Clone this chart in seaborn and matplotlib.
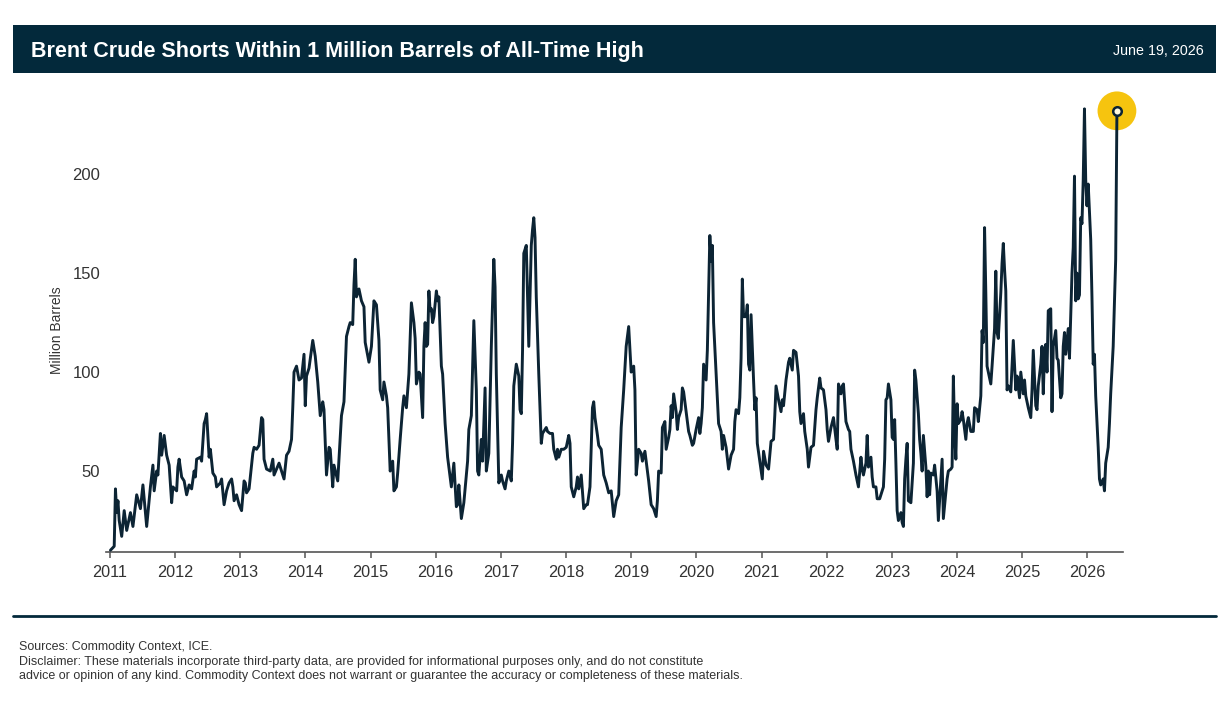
import pandas as pd
import numpy as np
import matplotlib.pyplot as plt
import matplotlib.dates as mdates
from matplotlib.patches import Rectangle
from matplotlib.lines import Line2D
import seaborn as sns

# weeks since 2011-01-04 (ICE weekly COT) and Brent managed-money shorts, million barrels
weeks = [
    0, 3, 4, 5, 6, 7, 9, 11, 13, 16, 18, 21, 24, 26, 29, 32, 34, 35, 37, 38, 40, 41, 43, 45, 47, 49, 50,
    53, 54, 55, 57, 59, 61, 63, 65, 67, 68, 69, 72, 73, 75, 76, 77, 79, 80, 82, 84, 85, 88, 89, 91, 93,
    95, 97, 98, 99, 101, 103, 105, 107, 108, 109, 111, 114, 115, 117, 119, 121, 122, 123, 125, 128, 130,
    131, 135, 137, 139, 141, 143, 145, 146, 147, 149, 151, 153, 155, 156, 157, 159, 162, 164, 166, 168,
    170, 171, 173, 175, 176, 178, 179, 182, 183, 185, 187, 189, 191, 192, 194, 195, 196, 197, 199,
    201, 203, 204, 207, 209, 211, 213, 215, 216, 218, 219, 221, 222, 224, 226, 227, 229, 230, 232, 234,
    235, 237, 239, 241, 243, 244, 245, 247, 248, 250, 251, 252, 253, 254, 255, 256, 257, 258, 259, 261,
    262, 263, 265, 266, 268, 270, 273, 275, 277, 278, 279, 281, 283, 285, 286, 287, 289, 291, 293, 294,
    295, 297, 298, 300, 301, 303, 305, 307, 308, 309, 311, 313, 314, 316, 317, 319, 321, 322, 323, 325,
    327, 328, 329, 330, 331, 333, 335, 337, 338, 339, 340, 341, 343, 345, 346, 349, 350, 352, 354, 355,
    357, 358, 359, 361, 363, 365, 367, 368, 369, 371, 373, 374, 375, 377, 379, 381, 382, 384, 386, 387,
    388, 390, 391, 393, 395, 397, 399, 401, 403, 405, 407,
    409, 411, 413, 415, 416, 417, 419, 420, 421, 423, 425, 426, 428, 429, 431, 433, 435, 437, 438, 439,
    441, 442, 444, 445, 447, 448, 449, 450, 451, 453, 454, 455, 457, 458, 459, 461, 463, 464, 466, 467,
    469, 471, 472, 473, 474, 475, 477, 478, 479, 480, 481, 482, 483, 485, 487, 489, 490, 491, 493, 495,
    497, 499, 500, 501, 503, 504, 505, 506, 507, 509, 510, 511, 512, 513, 515, 516, 517, 518, 520, 522,
    523, 525, 527, 529, 531, 532, 533, 535, 537, 538, 539, 541, 543, 544, 546, 547, 549, 551, 552, 553,
    555, 556, 558, 559, 561, 563, 565, 566, 568, 569, 571, 573, 574, 575, 577, 579, 581, 582, 583, 585,
    586, 587, 589, 591, 592, 593, 595, 597, 598, 599, 601, 602, 603, 605, 606, 607, 609, 610, 611, 613,
    614, 616,
    619, 620, 621, 622, 623, 625, 626, 627, 628, 629, 630, 631, 633, 634, 635, 636, 637, 638, 639, 641,
    643, 644, 645, 647, 648, 649, 650, 651, 653, 654, 655, 656, 657, 659, 660, 662, 663, 665, 666, 667,
    669, 670, 671, 673, 674, 675, 676, 677, 678, 679, 681, 682, 683, 685, 686, 687, 689, 691, 692, 694,
    695, 697, 698, 699, 700, 701, 702, 703, 705, 706, 708, 709, 710, 711, 713, 714, 715, 716, 717, 718,
    719, 721, 722, 723, 724, 725, 726, 728, 729, 731, 732, 733, 735, 737, 738, 739, 741, 742, 743, 745,
    746, 747, 748, 749, 750, 751, 753, 754, 755, 757, 758, 759, 761, 762, 763, 764, 765, 767, 768, 769,
    770, 771, 772, 773, 774, 775, 776, 777, 778, 779, 780, 781, 782, 783, 785, 786, 787, 788, 789, 791,
    792, 793, 795, 796, 797, 799, 800, 801, 803, 804, 805, 806,
]
shorts = [
    10, 12, 41, 29, 35, 25, 17, 30, 20, 29, 22, 38, 31, 43, 22, 42, 53, 40, 50, 48, 69, 58, 68, 58, 53, 34, 42,
    40, 52, 56, 47, 45, 38, 43, 41, 50, 47, 56, 57, 55, 74, 76, 79, 57, 61, 49, 47, 42, 44, 46, 33, 40,
    44, 46, 42, 35, 38, 33, 30, 45, 44, 39, 41, 59, 62, 61, 63, 77, 76, 56, 51, 50, 56,
    48, 54, 50, 46, 58, 60, 66, 82, 100, 103, 96, 97, 109, 83, 98, 102, 116, 108, 95, 78,
    85, 81, 48, 62, 61, 42, 53, 45, 56, 78, 85, 118, 123, 125, 124, 144, 157, 138, 142,
    136, 133, 115, 105, 113, 136, 134, 116, 91, 86, 95, 88, 82, 50, 55, 40, 42, 49, 66, 82,
    88, 82, 99, 135, 125, 117, 94, 100, 99, 77, 113, 125, 113, 114, 141, 131, 132, 125, 128, 141,
    136, 138, 103, 99, 74, 57, 42, 54, 32, 33, 43, 26, 34, 48, 55, 71, 78, 126, 91, 50,
    48, 66, 55, 92, 50, 59, 113, 157, 143, 99, 44, 48, 45, 41, 45, 50, 45, 64, 93, 104,
    98, 81, 79, 111, 160, 164, 113, 164, 172, 178, 168, 138, 99, 64, 69, 72, 70, 69, 69, 61,
    56, 61, 57, 61, 61, 62, 68, 64, 42, 37, 42, 47, 41, 48, 31, 33, 33, 42, 82, 85,
    77, 68, 63, 61, 48, 44, 39, 40, 27, 35, 38,
    72, 91, 113, 123, 111, 100, 103, 91, 48, 61, 59, 55, 60, 55, 45, 33, 31, 27, 35, 50,
    49, 72, 75, 61, 67, 71, 83, 77, 89, 80, 71, 77, 81, 92, 90, 80, 70, 68, 63, 64,
    71, 77, 69, 74, 82, 104, 96, 111, 141, 169, 156, 164, 125, 99, 74, 70, 61, 68, 62, 51,
    58, 61, 75, 81, 79, 87, 107, 147, 128, 128, 134, 104, 101, 129, 96, 81, 87, 64, 55, 46,
    60, 53, 51, 65, 66, 78, 93, 86, 80, 86, 83, 96, 105, 107, 101, 111, 110, 98, 80, 74,
    79, 70, 61, 52, 62, 63, 81, 87, 97, 92, 91, 81, 71, 65, 72, 77, 66, 61, 94, 89,
    93, 94, 75, 71, 70, 61, 55, 48, 45, 42, 57, 51, 48, 54, 68, 52, 57, 47, 42, 42,
    36, 36,
    42, 56, 86, 87, 94, 86, 67, 66, 76, 54, 30, 25, 29, 24, 22, 46, 56, 64, 35, 34,
    54, 101, 96, 79, 66, 59, 50, 68, 52, 37, 50, 38, 49, 48, 53, 40, 25, 46, 56, 26,
    39, 46, 50, 51, 52, 98, 70, 56, 84, 74, 76, 80, 76, 66, 74, 77, 70, 70, 82, 81,
    75, 88, 121, 115, 173, 140, 103, 100, 94, 103, 122, 151, 120, 117, 140, 155, 165, 152, 141, 91,
    93, 90, 103, 116, 103, 91, 98, 87, 100, 89, 96, 88, 82, 77, 91, 111, 83, 81, 93, 104,
    113, 89, 109, 114, 100, 131, 132, 80, 113, 121, 107, 106, 87, 89, 113, 120, 109, 122, 107, 129,
    150, 163, 199, 136, 150, 137, 139, 178, 175, 197, 233, 197, 184, 195, 167, 138, 104, 109, 88, 62,
    46, 43, 46, 40, 54, 62, 74, 89, 113, 136, 157, 232,
]

title = "Brent Crude Shorts Within 1 Million Barrels of All-Time High"
report_date = "June 19, 2026"
source_note = "Sources: Commodity Context, ICE."
disclaimer = ["Disclaimer: These materials incorporate third-party data, are provided for informational purposes only, and do not constitute",
              "advice or opinion of any kind. Commodity Context does not warrant or guarantee the accuracy or completeness of these materials."]

navy = "#03293b"
line_col = "#0c2434"
gold = "#f6c40f"

df = pd.DataFrame({"date": pd.Timestamp("2011-01-04") + pd.to_timedelta(np.array(weeks) * 7, unit="D"),
                   "shorts": shorts})

sns.set_theme(style="white")
plt.rcParams["font.family"] = ["Liberation Sans", "DejaVu Sans"]

W, H = 1229, 701
fig = plt.figure(figsize=(W / 100, H / 100), dpi=100)
ax = fig.add_axes([106 / W, 1 - 552 / H, (1123 - 106) / W, (552 - 95) / H])

sns.lineplot(data=df, x="date", y="shorts", color=line_col, linewidth=2.1, ax=ax, zorder=3)

last = df.iloc[-1]
ax.scatter([last["date"]], [last["shorts"]], s=780, color=gold, edgecolors="none", zorder=2, clip_on=False)
ax.scatter([last["date"]], [last["shorts"]], s=38, facecolor="#fff8dc", edgecolors=line_col,
           linewidths=1.8, zorder=4, clip_on=False)

ax.set_xlim(pd.Timestamp("2010-12-10"), pd.Timestamp("2026-07-20"))
ax.set_ylim(9.1, 240)
ax.set_yticks([50, 100, 150, 200])
ax.xaxis.set_major_locator(mdates.YearLocator())
ax.xaxis.set_major_formatter(mdates.DateFormatter("%Y"))
ax.set_xlabel("")
ax.set_ylabel("Million Barrels", fontsize=10, color="#333333")
ax.yaxis.set_label_coords(-0.041, 0.485)

for s in ["top", "right", "left"]:
    ax.spines[s].set_visible(False)
ax.spines["bottom"].set_color("#555555")
ax.spines["bottom"].set_linewidth(1.2)
ax.tick_params(axis="x", bottom=True, length=4, width=1.1, color="#555555", labelsize=11.7,
               labelcolor="#333333", pad=5.5)
ax.tick_params(axis="y", left=False, length=0, labelsize=12, labelcolor="#333333", pad=4.3)
ax.grid(False)

# header band
fig.patches.append(Rectangle((13 / W, 1 - 73 / H), (1216 - 13) / W, 48 / H, transform=fig.transFigure,
                             facecolor=navy, edgecolor="none", zorder=0))
fig.text(31 / W, 1 - 51.5 / H, title, color="white", fontsize=15.5, fontweight="bold", va="center", ha="left")
fig.text(1204 / W, 1 - 51 / H, report_date, color="white", fontsize=10.3, va="center", ha="right")

# footer rule and notes
fig.add_artist(Line2D([13 / W, 1216 / W], [1 - 616 / H, 1 - 616 / H], transform=fig.transFigure,
                      color=navy, linewidth=2))
fig.text(19 / W, 1 - 647 / H, source_note, color="#333333", fontsize=9, va="center", ha="left")
fig.text(19 / W, 1 - 662 / H, disclaimer[0], color="#333333", fontsize=9, va="center", ha="left")
fig.text(19 / W, 1 - 676 / H, disclaimer[1], color="#333333", fontsize=9, va="center", ha="left")

fig.savefig("out.png", dpi=100, facecolor="white")
